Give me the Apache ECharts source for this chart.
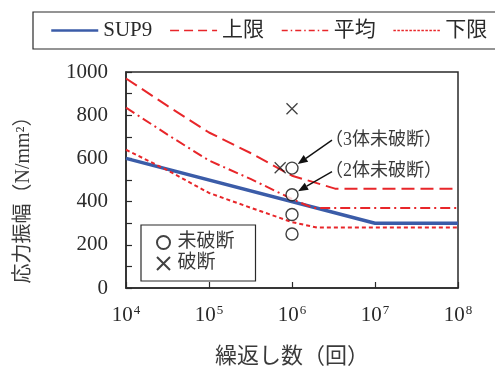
<!DOCTYPE html>
<html>
<head>
<meta charset="utf-8">
<script src="https://cdn.jsdelivr.net/npm/echarts@6/dist/echarts.min.js"></script>
<style>
  html, body { margin: 0; padding: 0; background: #fff; }
  #chart { width: 495px; height: 373px; }
</style>
</head>
<body>
<div id="chart"></div>
<script>
// S-N design curve for SUP9 and the scatter band (upper / mean / lower)
const sup9N = [1e4, 1e7, 1e8];
const sup9S = [600, 300, 300];

const upperN = [1e4, 31623, 1e5, 316228, 1e6, 3.3e6, 1e8];
const upperS = [970, 843, 720, 625, 520, 460, 460];

const meanN = [1e4, 31623, 1e5, 316228, 1e6, 1.8e6, 1e8];
const meanS = [835, 710, 590, 505, 412, 370, 370];

const lowerN = [1e4, 31623, 1e5, 316228, 1e6, 2e6, 1e8];
const lowerS = [640, 545, 440, 372, 305, 280, 280];

// Fatigue test results
const runoutN = [1e6, 1e6, 1e6, 1e6];
const runoutS = [555, 432, 340, 250];
const brokenN = [7.2e5, 1e6];
const brokenS = [557, 830];

// Labels for the grouped run-out points
const noteTexts = ['（3体未破断）', '（2体未破断）'];
const notePointIndex = [0, 1];

const legendNames = ['SUP9', '上限', '平均', '下限'];
const markerNames = ['未破断', '破断'];
const yTitle = '応力振幅（N/mm²）';
const xTitle = '繰返し数（回）';

const pairs = (xs, ys) => xs.map((x, i) => [x, ys[i]]);

const SERIF = '"Liberation Serif", "Noto Sans CJK JP", serif';
const RED = '#e8262a';
const BLUE = '#3b5ca8';
const INK = '#2a2a2a';
const GREY = '#3a3a3a';
const CROSS = 'path://M0,0L10,10M10,0L0,10';

const chart = echarts.init(document.getElementById('chart'), null, { renderer: 'canvas' });

const lineSeries = (name, xs, ys, color, width, dash) => ({
  name, type: 'line', data: pairs(xs, ys),
  symbol: 'none', silent: true, z: 3, color,
  itemStyle: { color },
  lineStyle: { color, width, type: dash }
});

const hideSym = { opacity: 0 };

const option = {
  animation: false,
  backgroundColor: '#fff',
  textStyle: { fontFamily: SERIF, color: INK },
  grid: {
    left: 126, right: 37, top: 72, bottom: 84,
    show: true, borderColor: INK, borderWidth: 1.5
  },
  legend: [
    {
      data: [
        { name: legendNames[0], itemStyle: hideSym, lineStyle: { width: 2.5 } },
        { name: legendNames[1], itemStyle: hideSym, lineStyle: { width: 1.6, type: [9, 5] } },
        { name: legendNames[2], itemStyle: hideSym, lineStyle: { width: 1.3, type: [6, 3, 1.5, 3] } },
        { name: legendNames[3], itemStyle: hideSym, lineStyle: { width: 1.3, type: [2.5, 1.5] } }
      ],
      left: 33, top: 12, width: 620,
      orient: 'horizontal',
      padding: [8, 17, 8, 17],
      itemWidth: 47, itemHeight: 14, itemGap: 17,
      borderColor: INK, borderWidth: 1.2,
      textStyle: { fontFamily: SERIF, fontSize: 21, color: INK }
    },
    {
      data: markerNames,
      left: 141, top: 225,
      orient: 'vertical',
      padding: [8, 21, 8, 15],
      itemWidth: 18, itemHeight: 13, itemGap: 2,
      borderColor: INK, borderWidth: 1.2,
      textStyle: { fontFamily: SERIF, fontSize: 19, color: GREY }
    }
  ],
  xAxis: {
    type: 'log', logBase: 10, min: 1e4, max: 1e8,
    name: xTitle, nameLocation: 'middle', nameGap: 58,
    nameTextStyle: { fontFamily: SERIF, fontSize: 22, color: GREY },
    axisLine: { lineStyle: { color: INK, width: 1.5 } },
    axisTick: { inside: true, length: 6, lineStyle: { color: INK, width: 1.2 } },
    splitLine: { show: false },
    axisLabel: {
      margin: 16,
      formatter: v => '{b|10}{s|' + Math.round(Math.log10(v)) + '}',
      rich: {
        b: { fontFamily: SERIF, fontSize: 21, color: INK },
        s: { fontFamily: SERIF, fontSize: 13, color: INK, padding: [0, 0, 10, 1] }
      }
    }
  },
  yAxis: {
    type: 'value', min: 0, max: 1000, interval: 200,
    axisLine: { show: true, lineStyle: { color: INK, width: 1.5 } },
    axisTick: { inside: true, length: 6, lineStyle: { color: INK, width: 1.2 } },
    minorTick: { show: true, splitNumber: 2, length: 6, lineStyle: { color: INK, width: 1.2 } },
    splitLine: { show: false },
    axisLabel: {
      margin: 18, fontFamily: SERIF, fontSize: 21, color: INK,
      formatter: v => String(v)
    }
  },
  series: [
    lineSeries(legendNames[0], sup9N, sup9S, BLUE, 3.5, 'solid'),
    lineSeries(legendNames[1], upperN, upperS, RED, 2, [13, 6]),
    lineSeries(legendNames[2], meanN, meanS, RED, 2, [10, 4, 2, 4]),
    lineSeries(legendNames[3], lowerN, lowerS, RED, 2, [4, 3]),
    {
      name: markerNames[0], type: 'scatter', data: pairs(runoutN, runoutS),
      symbol: 'circle', symbolSize: 12, z: 5,
      itemStyle: { color: '#fff', borderColor: '#111', borderWidth: 1.4 }
    },
    {
      name: markerNames[1], type: 'scatter', data: pairs(brokenN, brokenS),
      symbol: CROSS, symbolSize: 11, z: 5,
      itemStyle: { color: 'transparent', borderColor: '#111', borderWidth: 1.3 }
    }
  ]
};

chart.setOption(option);

// Vertical axis title, centred a little below the middle of the axis
const extras = [{
  type: 'text', z: 10, x: 24, y: 195, rotation: Math.PI / 2,
  style: {
    text: yTitle, fontFamily: SERIF, fontSize: 20, fill: GREY,
    align: 'center', verticalAlign: 'middle'
  }
}];

// Callout arrows pointing at the grouped run-out markers
const starts = [[40, -28], [40, -23]];
notePointIndex.forEach((pi, k) => {
  const c = chart.convertToPixel({ seriesIndex: 4 }, [runoutN[pi], runoutS[pi]]);
  const sx = c[0] + starts[k][0], sy = c[1] + starts[k][1];
  const dx = sx - c[0], dy = sy - c[1];
  const len = Math.hypot(dx, dy);
  const ux = dx / len, uy = dy / len;
  const tx = c[0] + ux * 7, ty = c[1] + uy * 7;
  const hl = 10, hw = 4;
  const bx = tx + ux * hl, by = ty + uy * hl;
  extras.push({
    type: 'line', z: 10,
    shape: { x1: sx, y1: sy, x2: bx, y2: by },
    style: { stroke: '#111', lineWidth: 1.4 }
  });
  extras.push({
    type: 'polygon', z: 10,
    shape: { points: [[tx, ty], [bx - uy * hw, by + ux * hw], [bx + uy * hw, by - ux * hw]] },
    style: { fill: '#111' }
  });
  extras.push({
    type: 'text', z: 10, x: sx - 7, y: sy,
    style: {
      text: noteTexts[k], fontFamily: SERIF, fontSize: 18, fill: GREY,
      verticalAlign: 'middle', align: 'left'
    }
  });
});
chart.setOption({ graphic: extras });
</script>
</body>
</html>
